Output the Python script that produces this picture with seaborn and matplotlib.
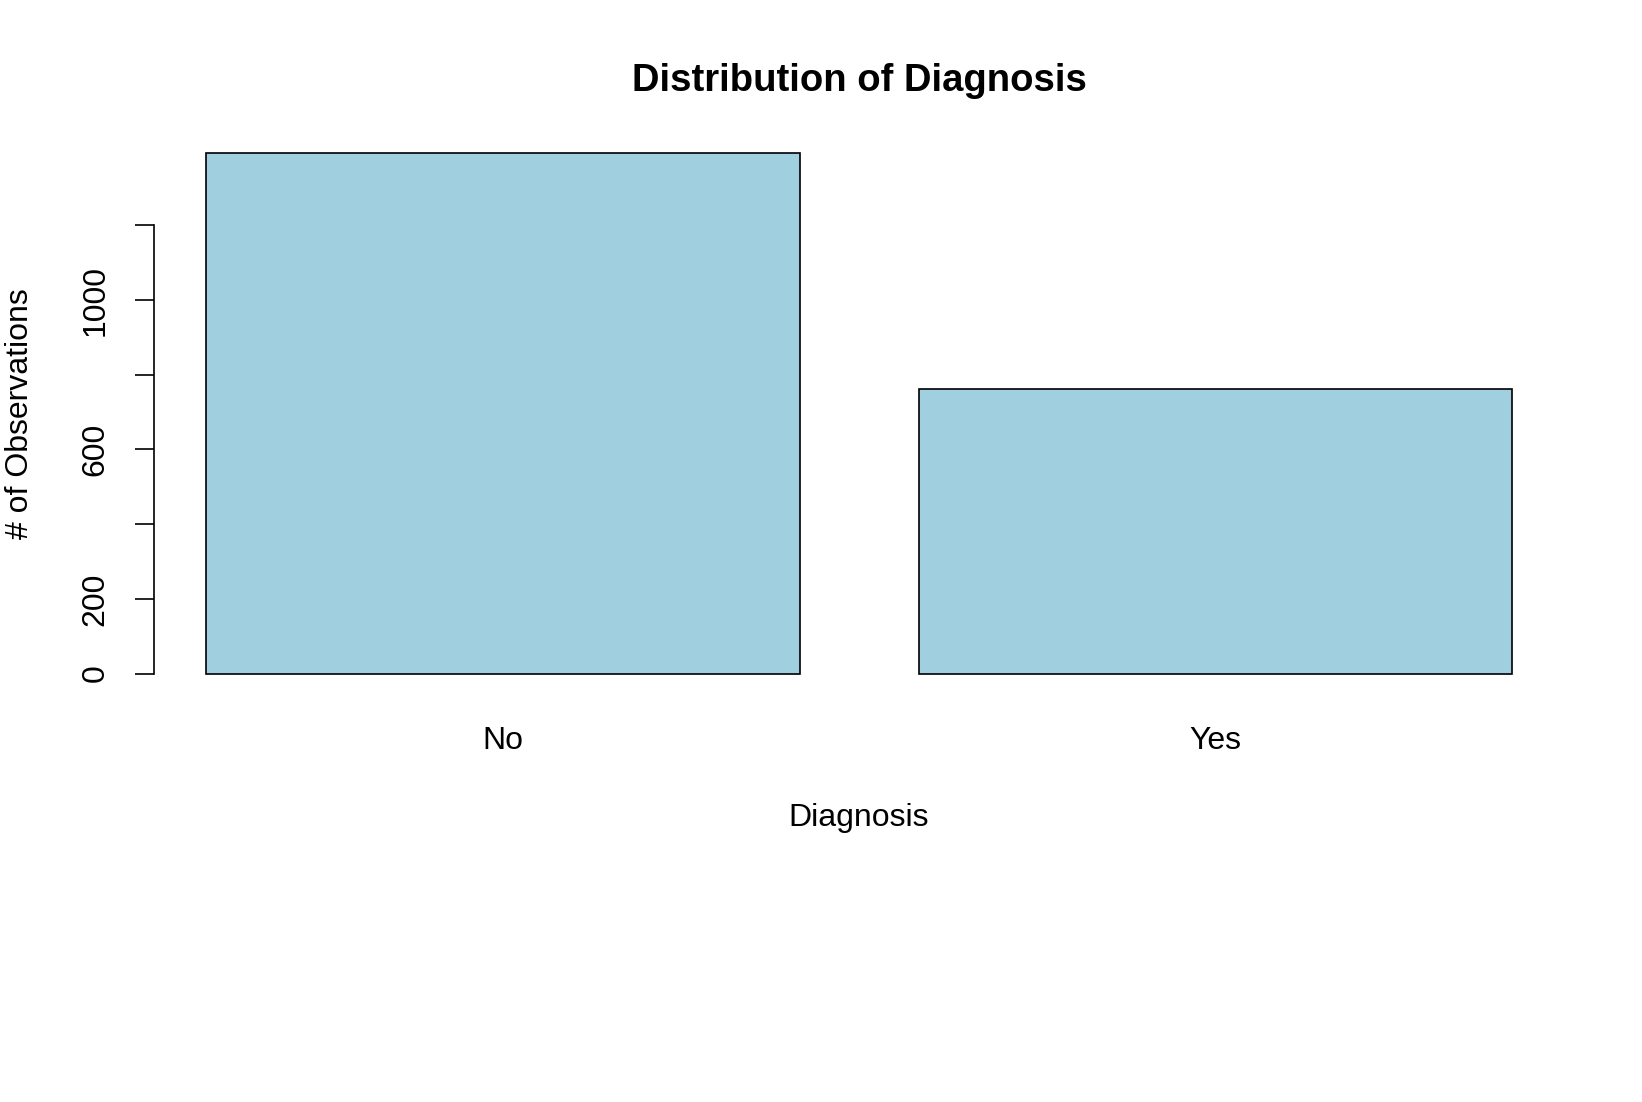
import matplotlib
matplotlib.use("Agg")
import matplotlib.pyplot as plt
import seaborn as sns

# data
diagnosis = ["No", "Yes"]
observations = [1395, 763]
y_ticks = [0, 200, 400, 600, 800, 1000, 1200]
y_tick_labels = ["0", "200", "", "600", "", "1000", ""]

sns.set_style("white")
plt.rcParams['font.family'] = ['Liberation Sans', 'DejaVu Sans']
plt.rcParams['text.color'] = 'black'
plt.rcParams['axes.labelcolor'] = 'black'
plt.rcParams['xtick.color'] = 'black'
plt.rcParams['ytick.color'] = 'black'

fig = plt.figure(figsize=(16.42, 11.02), dpi=100)
ax = fig.add_axes([0.0935, 0.370, 0.8594, 0.5086])

bar_width = 0.833
sns.barplot(x=diagnosis, y=observations, color="#a0cfe0", saturation=1,
            edgecolor="black", linewidth=1.2, width=bar_width, ax=ax)

# R-style axis ranges (4% padding around the data range)
lo, hi = -bar_width / 2, len(diagnosis) - 1 + bar_width / 2
ax.set_xlim(lo - 0.04 * (hi - lo), hi + 0.04 * (hi - lo))
ax.set_ylim(-0.04 * 1390, 1.04 * 1390)

for side in ["top", "right", "bottom"]:
    ax.spines[side].set_visible(False)
ax.spines["left"].set_bounds(0, 1200)
ax.spines["left"].set_linewidth(1.2)
ax.spines["left"].set_color("black")

ax.set_yticks(y_ticks)
ax.set_yticklabels(y_tick_labels, rotation=90, va="center", fontsize=23)
ax.tick_params(axis="y", left=True, length=14, width=1.2, pad=17)
ax.tick_params(axis="x", bottom=False, length=0, pad=23, labelsize=23)

ax.set_title("Distribution of Diagnosis", fontsize=27.5, fontweight="bold", pad=31)
ax.set_xlabel("Diagnosis", fontsize=23, labelpad=34)
ax.set_ylabel("# of Observations", fontsize=23, labelpad=33)

fig.savefig("out.png", dpi=100, facecolor="white")
